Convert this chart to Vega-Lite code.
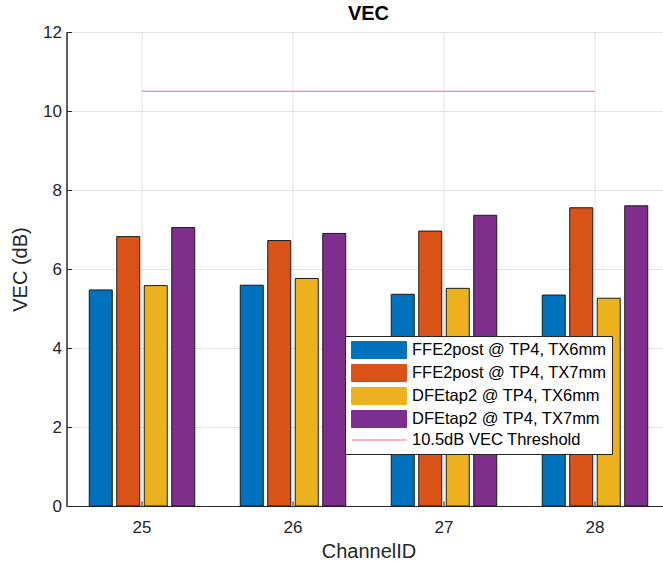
{
  "$schema": "https://vega.github.io/schema/vega-lite/v6.json",
  "autosize": "none",
  "padding": {"left": 66.5, "top": 32, "right": 0, "bottom": 56},
  "width": 604,
  "height": 474,
  "background": "white",
  "title": {"text": "VEC", "fontSize": 20, "font": "Liberation Sans", "fontWeight": "bold", "color": "#000000", "offset": -1, "anchor": "middle"},
  "config": {
    "view": {"stroke": "#262626", "strokeWidth": 1},
    "font": "Liberation Sans"
  },
  "layer": [
    {
      "data": {"values": [
        {"channel": "25", "series": "FFE2post @ TP4, TX6mm", "vec": 5.47},
        {"channel": "25", "series": "FFE2post @ TP4, TX7mm", "vec": 6.82},
        {"channel": "25", "series": "DFEtap2 @ TP4, TX6mm", "vec": 5.58},
        {"channel": "25", "series": "DFEtap2 @ TP4, TX7mm", "vec": 7.05},
        {"channel": "26", "series": "FFE2post @ TP4, TX6mm", "vec": 5.59},
        {"channel": "26", "series": "FFE2post @ TP4, TX7mm", "vec": 6.72},
        {"channel": "26", "series": "DFEtap2 @ TP4, TX6mm", "vec": 5.76},
        {"channel": "26", "series": "DFEtap2 @ TP4, TX7mm", "vec": 6.90},
        {"channel": "27", "series": "FFE2post @ TP4, TX6mm", "vec": 5.36},
        {"channel": "27", "series": "FFE2post @ TP4, TX7mm", "vec": 6.96},
        {"channel": "27", "series": "DFEtap2 @ TP4, TX6mm", "vec": 5.51},
        {"channel": "27", "series": "DFEtap2 @ TP4, TX7mm", "vec": 7.36},
        {"channel": "28", "series": "FFE2post @ TP4, TX6mm", "vec": 5.34},
        {"channel": "28", "series": "FFE2post @ TP4, TX7mm", "vec": 7.55},
        {"channel": "28", "series": "DFEtap2 @ TP4, TX6mm", "vec": 5.26},
        {"channel": "28", "series": "DFEtap2 @ TP4, TX7mm", "vec": 7.60}
      ]},
      "mark": {"type": "bar", "stroke": "#1a1a1a", "strokeWidth": 1},
      "encoding": {
        "x": {
          "field": "channel", "type": "ordinal", "title": "ChannelID",
          "scale": {"paddingInner": 0.2715, "paddingOuter": 0.1358},
          "axis": {
            "labelAngle": 0, "labelFontSize": 17, "labelColor": "#262626", "labelPadding": 18,
            "titleFontSize": 20, "titleFontWeight": "normal", "titleColor": "#262626", "titlePadding": 6,
            "domainColor": "#262626", "tickColor": "#262626", "tickSize": -5, "bandPosition": 0.5,
            "grid": true, "gridColor": "#e3e3e3"
          }
        },
        "xOffset": {"field": "series", "type": "nominal",
          "sort": ["FFE2post @ TP4, TX6mm", "FFE2post @ TP4, TX7mm", "DFEtap2 @ TP4, TX6mm", "DFEtap2 @ TP4, TX7mm"],
          "scale": {"paddingInner": 0.1636, "paddingOuter": 0.0818}},
        "y": {
          "field": "vec", "type": "quantitative", "title": "VEC (dB)",
          "scale": {"domain": [0, 12], "nice": false},
          "axis": {
            "values": [0, 2, 4, 6, 8, 10, 12], "labelFontSize": 17, "labelColor": "#262626", "labelPadding": 10,
            "titleFontSize": 20, "titleFontWeight": "normal", "titleColor": "#262626", "titlePadding": 12,
            "domainColor": "#262626", "tickColor": "#262626", "tickSize": -5,
            "grid": true, "gridColor": "#e3e3e3"
          }
        },
        "color": {
          "field": "series", "type": "nominal",
          "scale": {
            "domain": ["FFE2post @ TP4, TX6mm", "FFE2post @ TP4, TX7mm", "DFEtap2 @ TP4, TX6mm", "DFEtap2 @ TP4, TX7mm", "10.5dB VEC Threshold"],
            "range": ["#0072BD", "#D95319", "#EDB120", "#7E2F8E", "#FF6B6B"]
          },
          "legend": {
            "title": null, "orient": "none", "legendX": 278.5, "legendY": 304,
            "fillColor": "white", "strokeColor": "#262626", "padding": 5,
            "labelFontSize": 16.5, "labelColor": "#000000", "labelOffset": 24, "labelLimit": 400,
            "symbolSize": 289, "symbolOffset": 20, "rowPadding": 1,
            "symbolType": {"expr": "datum.value === '10.5dB VEC Threshold' ? 'M-3.24,0H3.24' : 'M-3.24,-1H3.24V1H-3.24Z'"},
            "symbolStrokeColor": {"expr": "datum.value === '10.5dB VEC Threshold' ? '#FF6B6B' : '#1a1a1a'"},
            "symbolStrokeWidth": 1,
            "symbolOpacity": 1
          }
        }
      }
    },
    {
      "data": {"values": [
        {"channel": "25", "series": "10.5dB VEC Threshold", "vec": 10.5},
        {"channel": "28", "series": "10.5dB VEC Threshold", "vec": 10.5}
      ]},
      "mark": {"type": "line", "strokeWidth": 1},
      "encoding": {
        "x": {"field": "channel", "type": "ordinal"},
        "y": {"field": "vec", "type": "quantitative"},
        "color": {"field": "series", "type": "nominal"}
      }
    }
  ]
}
